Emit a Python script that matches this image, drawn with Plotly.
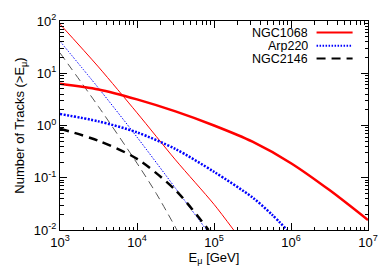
import plotly.graph_objects as go

# ---- data ----
E_ngc1068_tot = [1e3, 3.16e3, 1e4, 3.16e4, 1e5, 3.16e5, 1e6, 3.16e6, 1e7]
N_ngc1068_tot = [6.3, 4.9, 3.16, 1.86, 1.0, 0.49, 0.19, 0.058, 0.0155]

E_ngc1068_thin = [1e3, 3.16e3, 1e4, 3.16e4, 1e5, 1.8e5]
N_ngc1068_thin = [87, 13.2, 1.75, 0.22, 0.031, 0.01]

E_arp220_tot = [1e3, 3.16e3, 1e4, 3.16e4, 1e5, 3.16e5, 5.6e5, 8.9e5]
N_arp220_tot = [1.66, 1.2, 0.74, 0.355, 0.13, 0.042, 0.02, 0.01]

E_arp220_thin = [1e3, 3.16e3, 1e4, 3.16e4, 8e4]
N_arp220_thin = [41, 5.2, 0.6, 0.063, 0.01]

E_ngc2146_tot = [1e3, 3.16e3, 1e4, 3.16e4, 8.5e4]
N_ngc2146_tot = [0.87, 0.51, 0.23, 0.058, 0.01]

E_ngc2146_thin = [1e3, 3.16e3, 1e4, 1.78e4, 3.3e4]
N_ngc2146_thin = [24.5, 2.3, 0.19, 0.05, 0.01]

legend_names = ["NGC1068", "Arp220", "NGC2146"]
x_tickvals = [1e3, 1e4, 1e5, 1e6, 1e7]
x_ticktext = ["10<sup>3</sup>", "10<sup>4</sup>", "10<sup>5</sup>", "10<sup>6</sup>", "10<sup>7</sup>"]
y_tickvals = [1e-2, 1e-1, 1e0, 1e1, 1e2]
y_ticktext = ["10<sup>-2</sup>", "10<sup>-1</sup>", "10<sup>0</sup>", "10<sup>1</sup>", "10<sup>2</sup>"]

RED = "#ff0000"
BLUE = "#0000ff"
BLACK = "#000000"
GRAY = "#555555"
FONT = "Liberation Sans, Arial, sans-serif"

fig = go.Figure()

def add(x, y, color, width, dash):
    fig.add_trace(go.Scatter(x=x, y=y, mode="lines", showlegend=False,
                             line=dict(color=color, width=width, dash=dash, shape="spline", smoothing=0.8),
                             hoverinfo="skip", cliponaxis=True))

add(E_ngc1068_thin, N_ngc1068_thin, RED, 1, "solid")
add(E_arp220_thin, N_arp220_thin, BLUE, 1, "1.5px,1.5px")
add(E_ngc2146_thin, N_ngc2146_thin, GRAY, 1, "8px,5px")
add(E_ngc1068_tot, N_ngc1068_tot, RED, 2.5, "solid")
add(E_arp220_tot, N_arp220_tot, BLUE, 2.5, "2px,1.5px")
add(E_ngc2146_tot, N_ngc2146_tot, BLACK, 2.5, "9px,6px")

# custom legend (text left of sample line, as in the reference)
leg_y = [0.945, 0.882, 0.820]
leg_style = [(RED, 2, "solid"), (BLUE, 2, "1.5px,1.5px"), (BLACK, 2, "9px,6px")]
for name, yy, (c, w, d) in zip(legend_names, leg_y, leg_style):
    fig.add_annotation(x=0.81, y=yy, xref="paper", yref="paper", text=name, showarrow=False,
                       xanchor="right", yanchor="middle", height=13, borderpad=0,
                       font=dict(size=12.5, color="black", family=FONT))
    fig.add_shape(type="line", xref="paper", yref="paper", x0=0.833, x1=0.95, y0=yy, y1=yy,
                  line=dict(color=c, width=w, dash=d))

axis_common = dict(showline=True, linecolor="black", linewidth=1, mirror="allticks",
                   ticks="inside", ticklen=7, tickcolor="black", showgrid=False, zeroline=False,
                   tickfont=dict(size=13, color="black", family=FONT),
                   minor=dict(ticks="inside", ticklen=3.5, tickcolor="black", dtick="D1", showgrid=False))

fig.update_xaxes(type="log", range=[3, 7], tickvals=x_tickvals, ticktext=x_ticktext,
                 title=dict(text="E<sub>μ</sub> [GeV]", standoff=2, font=dict(size=13, color="black", family=FONT)),
                 **axis_common)
fig.update_yaxes(type="log", range=[-2, 2], tickvals=y_tickvals, ticktext=y_ticktext,
                 title=dict(text="Number of Tracks (>E<sub>μ</sub>)", standoff=6, font=dict(size=13, color="black", family=FONT)),
                 **axis_common)

fig.update_layout(width=390, height=273, margin=dict(l=60, r=22, t=15, b=40),
                  plot_bgcolor="white", paper_bgcolor="white", font=dict(family=FONT))

fig.write_html("out.html", config={"displayModeBar": False, "staticPlot": True},
               post_script="document.body.style.margin='0px';document.body.style.overflow='hidden';")
